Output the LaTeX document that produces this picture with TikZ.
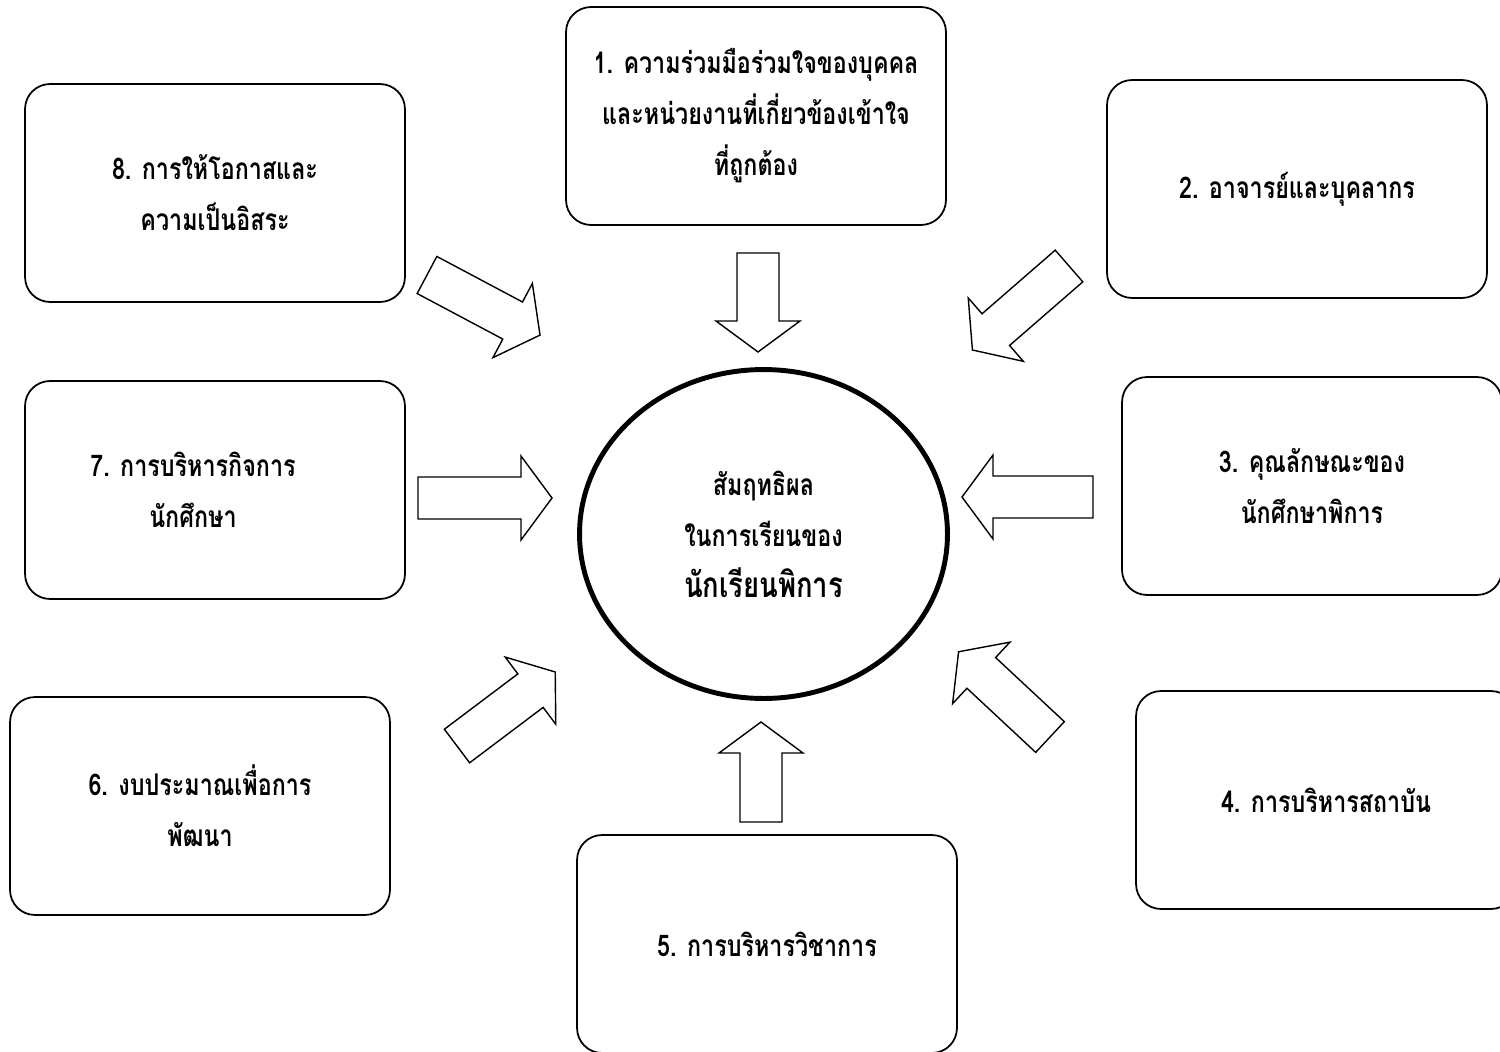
\documentclass[tikz,border=0pt]{standalone}
\usepackage{fontspec}
\newfontfamily\thaifont[Script=Thai, FakeStretch=0.78]{Loma}
\usetikzlibrary{shapes.geometric}
\newcommand{\widthshaft}{21}
\newcommand{\widthhead}{42}
\newcommand{\lengthhead}{31}
\newcommand{\blockarrow}[3]{%
  \draw[inflow, shift={#1}, rotate=#2]
    (0,-\widthshaft) -- (#3-\lengthhead,-\widthshaft) -- (#3-\lengthhead,-\widthhead)
    -- (#3,0) -- (#3-\lengthhead,\widthhead) -- (#3-\lengthhead,\widthshaft)
    -- (0,\widthshaft) -- cycle;}
\tikzset{
    factor/.style={draw, line width=1pt, rounded corners=0.5cm, minimum width=7.6cm,
        minimum height=4.36cm, align=center, font=\thaifont\bfseries\fontsize{17}{29}\selectfont},
    goal/.style={draw, ellipse, line width=2.8pt, minimum width=7.36cm, minimum height=6.58cm,
        align=center, font=\thaifont\bfseries\fontsize{17}{29}\selectfont},
    inflow/.style={draw, line width=0.8pt, fill=white, line join=miter}
}
\begin{document}
\begin{tikzpicture}[x=0.02cm, y=-0.02cm]
      \useasboundingbox (0,0) rectangle (1500,1051);
      \clip (0,0) rectangle (1500,1051);

      \node[factor] (f1) at (756,116) {1. ความร่วมมือร่วมใจของบุคคล\\และหน่วยงานที่เกี่ยวข้องเข้าใจ\\ที่ถูกต้อง};
      \node[factor] (f2) at (1297,189) {2. อาจารย์และบุคลากร};
      \node[factor] (f3) at (1312,486) {3. คุณลักษณะของ\\นักศึกษาพิการ};
      \node[factor] (f4) at (1326,800) {4. การบริหารสถาบัน};
      \node[factor] (f5) at (767,944) {5. การบริหารวิชาการ};
      \node[factor] (f6) at (200,806) {6. งบประมาณเพื่อการ\\พัฒนา};
      \node[factor] (f7) at (215,490) {7. การบริหารกิจการ\hspace*{0.88cm}\\นักศึกษา\hspace*{0.88cm}};
      \node[factor] (f8) at (215,193) {8. การให้โอกาสและ\\ความเป็นอิสระ};

      \node[goal] (result) at (763.5,534) {สัมฤทธิผล\\ในการเรียนของ\\{\fontsize{20}{31}\selectfont นักเรียนพิการ}};

      \blockarrow{(758,253)}{-90}{99}
      \blockarrow{(1069,266)}{-139}{128}
      \blockarrow{(1093,497)}{180}{131}
      \blockarrow{(1050,737)}{137}{125}
      \blockarrow{(761,822)}{90}{100}
      \blockarrow{(457,746)}{37}{123}
      \blockarrow{(418,498)}{0}{134}
      \blockarrow{(427,275)}{-28}{128}
\end{tikzpicture}
\end{document}
